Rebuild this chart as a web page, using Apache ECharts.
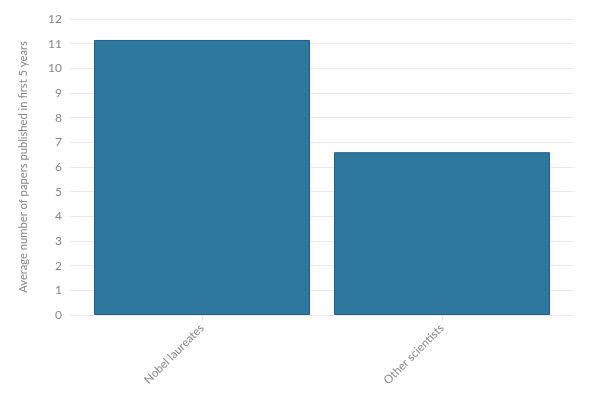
<!DOCTYPE html>
<html>
<head>
<meta charset="utf-8">
<script src="https://cdn.jsdelivr.net/npm/echarts@6/dist/echarts.min.js"></script>
<style>
  html, body { margin: 0; padding: 0; background: #fff; }
  #main { width: 600px; height: 401px; }
</style>
</head>
<body>
<div id="main"></div>
<script>
var categories = ['Nobel laureates', 'Other scientists']
var avgPapers = [11.15, 6.6]
var yTicks = [0, 12, 1]

var myChart = echarts.init(document.getElementById('main'))

var option = {
    animation: false,
    textStyle: { fontFamily: 'Lato' },
    grid: [
        // wide grid only for the horizontal gridlines
        { left: 70, right: 27, top: 19, bottom: 86 },
        // bars grid
        { left: 82, right: 38, top: 19, bottom: 86 }
    ],
    xAxis: [
        {
            type: 'category',
            gridIndex: 0,
            data: categories,
            show: false
        },
        {
            type: 'category',
            gridIndex: 1,
            data: categories,
            axisLine: { show: false },
            axisTick: { show: true, alignWithLabel: true, length: 6, lineStyle: { color: '#e6e6e6' } },
            axisLabel: {
                rotate: 45,
                margin: 11,
                color: '#888',
                fontSize: 11.5
            }
        }
    ],
    yAxis: [
        {
            type: 'value',
            gridIndex: 0,
            min: yTicks[0],
            max: yTicks[1],
            interval: yTicks[2],
            name: 'Average number of papers published in first 5 years',
            nameLocation: 'middle',
            nameGap: 41,
            nameTextStyle: { color: '#888', fontSize: 11.2 },
            axisLine: { show: false },
            axisTick: { show: false },
            axisLabel: { color: '#888', fontSize: 12, margin: 8 },
            splitLine: { lineStyle: { color: '#eaeaea', width: 1 } }
        },
        {
            type: 'value',
            gridIndex: 1,
            min: yTicks[0],
            max: yTicks[1],
            interval: yTicks[2],
            show: false
        }
    ],
    series: [
        {
            type: 'bar',
            xAxisIndex: 1,
            yAxisIndex: 1,
            data: avgPapers,
            barWidth: '90%',
            itemStyle: {
                color: '#2e789e',
                borderColor: '#1f5f88',
                borderWidth: 1
            }
        }
    ]
}

option && myChart.setOption(option, true)
</script>
</body>
</html>
